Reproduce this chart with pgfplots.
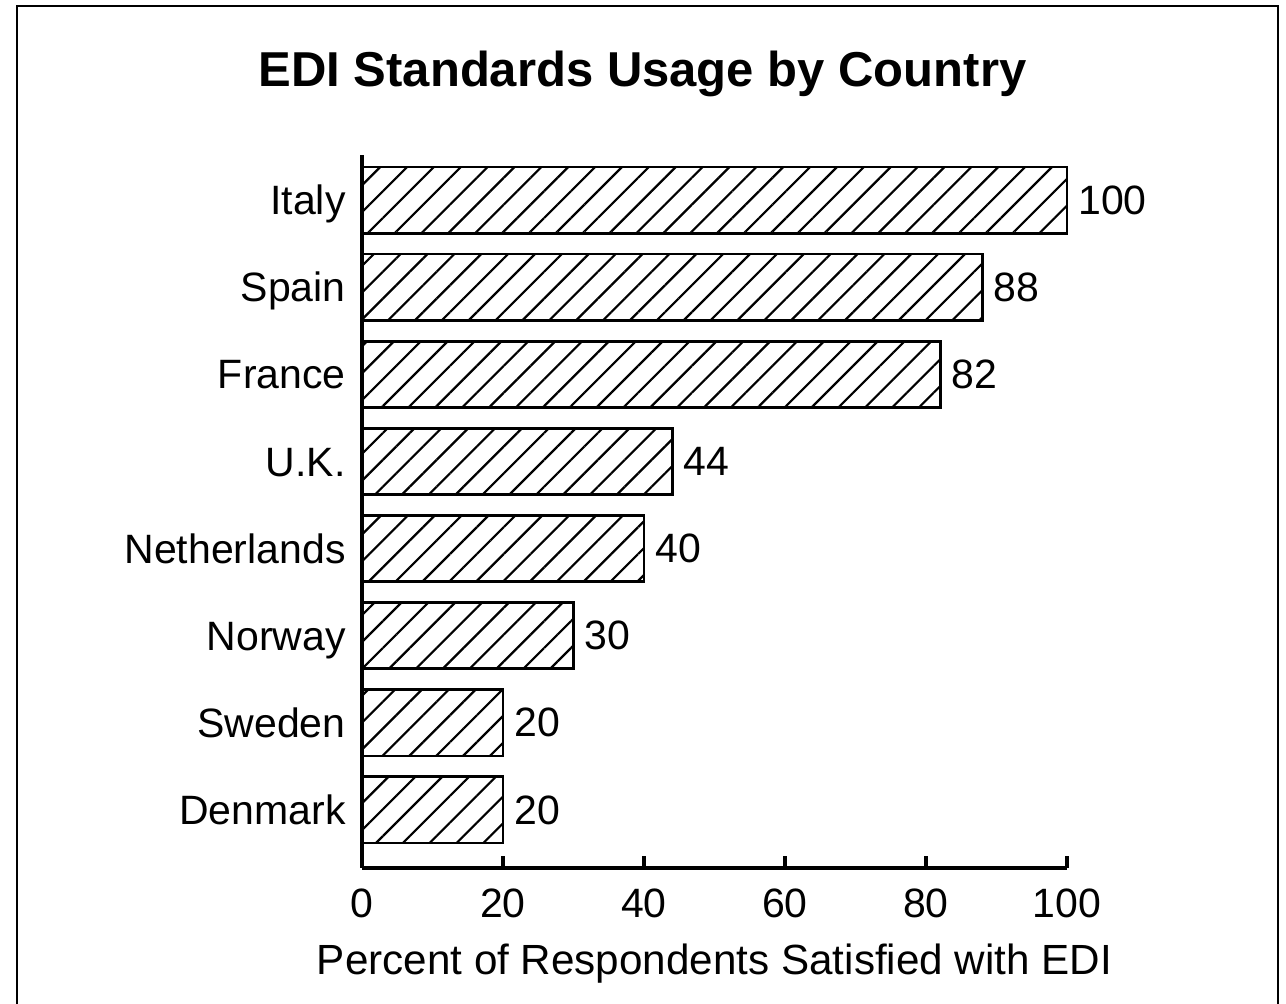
\documentclass[border=0pt]{standalone}
\usepackage{fontspec}
\setmainfont{Liberation Sans}
\usepackage{pgfplots}
\pgfplotsset{compat=1.18}
\usetikzlibrary{patterns.meta}
\begin{document}
\begin{tikzpicture}[x=1pt,y=1pt]
\useasboundingbox (0,0) rectangle (643,502);
\draw[line width=1pt] (8.5,-10) rectangle (639,499);
\node[anchor=base, inner sep=0pt, font=\fontsize{24.5}{29}\selectfont\bfseries] at (321.25,458.5) {EDI Standards Usage by Country};
\begin{axis}[
  at={(181pt,68pt)}, anchor=south west,
  scale only axis, width=352.5pt, height=356.5pt,
  xmin=0, xmax=100, ymin=-0.666, ymax=7.517,
  enlargelimits=false, clip=false,
  axis x line*=bottom, axis y line*=left,
  axis line style={line width=1.6pt, black},
  xtick={0,20,40,60,80,100},
  xtick align=inside,
  major tick length=6pt,
  xtick style={line width=1.6pt, black},
  ytick={0,1,2,3,4,5,6,7},
  yticklabels={Denmark,Sweden,Norway,Netherlands,U.K.,France,Spain,Italy},
  ytick style={draw=none},
  /pgf/number format/assume math mode=true,
  xticklabel style={font=\fontsize{20.5}{24}\selectfont, anchor=base, inner sep=0pt, yshift=-25pt},
  yticklabel style={font=\fontsize{20.5}{24}\selectfont, anchor=base east, inner sep=0pt, xshift=-2pt, yshift=-7.3pt},
  xlabel={Percent of Respondents Satisfied with EDI},
  xlabel style={font=\fontsize{21.1}{25}\selectfont, at={(axis description cs:0.5,0)}, anchor=base, inner sep=0pt, yshift=-53.5pt},
  xbar, bar width=0.76, bar shift=0pt,
  nodes near coords,
  every node near coord/.append style={font=\fontsize{20.5}{24}\selectfont, anchor=west, inner sep=0pt, xshift=5pt, black},
]
\addplot[draw=black, line width=1.4pt, pattern={Lines[angle=45,distance=9.5pt,line width=1.1pt]}, pattern color=black]
  coordinates {(20,0) (20,1) (30,2) (40,3) (44,4) (82,5) (88,6) (100,7)};
\end{axis}
\end{tikzpicture}
\end{document}
